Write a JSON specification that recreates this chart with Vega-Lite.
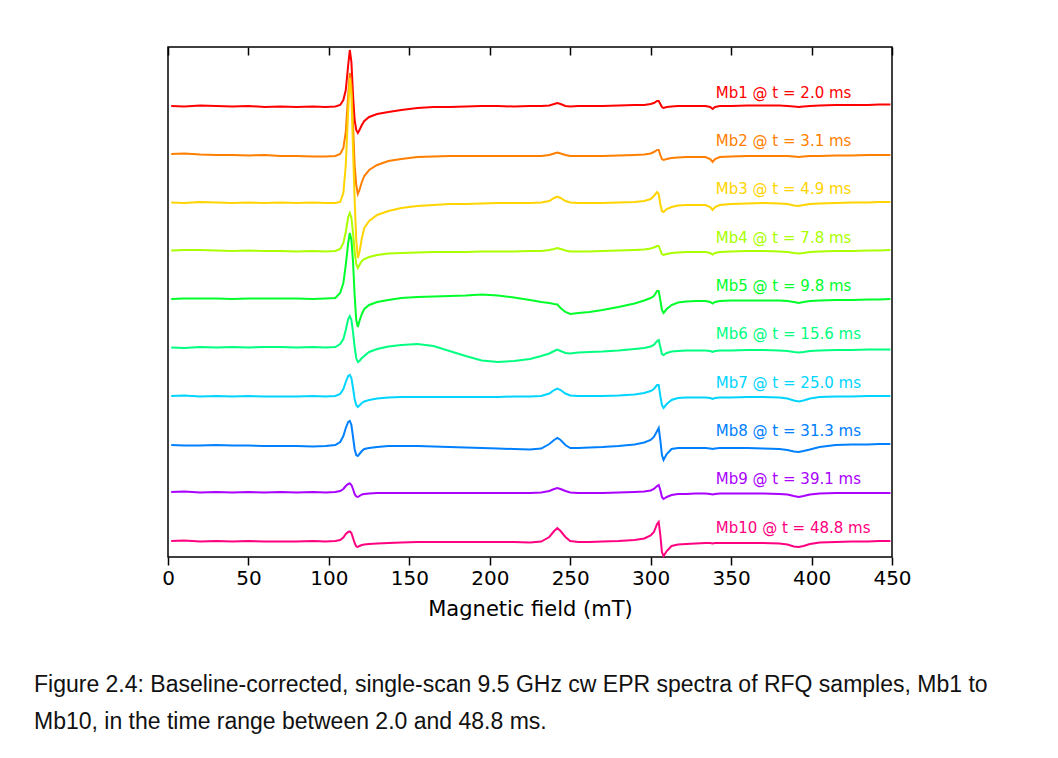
{
  "$schema": "https://vega.github.io/schema/vega-lite/v6.json",
  "width": 724,
  "height": 510,
  "autosize": "none",
  "padding": {"left": 168, "top": 47, "right": 166, "bottom": 201},
  "background": "white",
  "config": {
    "view": {"stroke": "#000000", "strokeWidth": 1.5}
  },
  "title": {
    "text": ["Figure 2.4:  Baseline-corrected, single-scan 9.5 GHz cw EPR spectra of RFQ samples, Mb1 to", "Mb10, in the time range between 2.0 and 48.8 ms."],
    "orient": "bottom",
    "anchor": "start",
    "frame": "group",
    "dx": -134,
    "offset": 55,
    "font": "Liberation Sans",
    "fontSize": 23,
    "fontWeight": "normal",
    "color": "#111111",
    "lineHeight": 37
  },
  "datasets": {
    "spectra": [
      {"x":2,"Mb1":451,"Mb2":403,"Mb3":354.5,"Mb4":306.5,"Mb5":258,"Mb6":209.5,"Mb7":161,"Mb8":112,"Mb9":65,"Mb10":16},
      {"x":10,"Mb1":450.5,"Mb2":403.5,"Mb3":354,"Mb4":307,"Mb5":258.5,"Mb6":209,"Mb7":161.5,"Mb8":111.5,"Mb9":65.5,"Mb10":16.5},
      {"x":20,"Mb1":451.5,"Mb2":402.5,"Mb3":355,"Mb4":307,"Mb5":258.5,"Mb6":210,"Mb7":160.5,"Mb8":111.5,"Mb9":64.5,"Mb10":15.5},
      {"x":30,"Mb1":451,"Mb2":402,"Mb3":354.5,"Mb4":306.5,"Mb5":258.5,"Mb6":209.5,"Mb7":161,"Mb8":112,"Mb9":65,"Mb10":16},
      {"x":40,"Mb1":450.5,"Mb2":402,"Mb3":354,"Mb4":306,"Mb5":258,"Mb6":210,"Mb7":160.5,"Mb8":111.5,"Mb9":64.5,"Mb10":15.5},
      {"x":50,"Mb1":451,"Mb2":401.5,"Mb3":354.5,"Mb4":306.5,"Mb5":258.5,"Mb6":209.5,"Mb7":161,"Mb8":111.5,"Mb9":65,"Mb10":16},
      {"x":60,"Mb1":450,"Mb2":402,"Mb3":354,"Mb4":306,"Mb5":258.5,"Mb6":210,"Mb7":160.5,"Mb8":111,"Mb9":64.5,"Mb10":15.5},
      {"x":70,"Mb1":450.5,"Mb2":401,"Mb3":354.5,"Mb4":306,"Mb5":258.5,"Mb6":210,"Mb7":160.5,"Mb8":111,"Mb9":65,"Mb10":15.5},
      {"x":80,"Mb1":450,"Mb2":401,"Mb3":354,"Mb4":305.5,"Mb5":258.5,"Mb6":209.5,"Mb7":160.5,"Mb8":111,"Mb9":64.5,"Mb10":15.5},
      {"x":90,"Mb1":450.5,"Mb2":400.5,"Mb3":354.5,"Mb4":306,"Mb5":258,"Mb6":210,"Mb7":161,"Mb8":110.5,"Mb9":65,"Mb10":16},
      {"x":98,"Mb1":450,"Mb2":400.5,"Mb3":354,"Mb4":305.5,"Mb5":258.5,"Mb6":209.5,"Mb7":160.5,"Mb8":111,"Mb9":64.5,"Mb10":15.5},
      {"x":104,"Mb1":450.5,"Mb2":401,"Mb3":354,"Mb4":306,"Mb5":259,"Mb6":210,"Mb7":161,"Mb8":112,"Mb9":65,"Mb10":16},
      {"x":107,"Mb1":452,"Mb2":403,"Mb3":355,"Mb4":308,"Mb5":264,"Mb6":213,"Mb7":163,"Mb8":115,"Mb9":66,"Mb10":17},
      {"x":109,"Mb1":457,"Mb2":409,"Mb3":364,"Mb4":314,"Mb5":274,"Mb6":218,"Mb7":168,"Mb8":121,"Mb9":68,"Mb10":19.5},
      {"x":110.5,"Mb1":467,"Mb2":425,"Mb3":392,"Mb4":325,"Mb5":292,"Mb6":227,"Mb7":175,"Mb8":129,"Mb9":71,"Mb10":23},
      {"x":112,"Mb1":492,"Mb2":462,"Mb3":447,"Mb4":340,"Mb5":314,"Mb6":238,"Mb7":181,"Mb8":135,"Mb9":73,"Mb10":25},
      {"x":113,"Mb1":507,"Mb2":484,"Mb3":479,"Mb4":344,"Mb5":324,"Mb6":241,"Mb7":182,"Mb8":136,"Mb9":73.5,"Mb10":25.5},
      {"x":114,"Mb1":495,"Mb2":472,"Mb3":462,"Mb4":339,"Mb5":317,"Mb6":237,"Mb7":179,"Mb8":132,"Mb9":72,"Mb10":24},
      {"x":115,"Mb1":462,"Mb2":432,"Mb3":407,"Mb4":324,"Mb5":295,"Mb6":225,"Mb7":169,"Mb8":120,"Mb9":68,"Mb10":19},
      {"x":116,"Mb1":437,"Mb2":392,"Mb3":357,"Mb4":305,"Mb5":262,"Mb6":210,"Mb7":158,"Mb8":108,"Mb9":63,"Mb10":14},
      {"x":117,"Mb1":427,"Mb2":372,"Mb3":317,"Mb4":293,"Mb5":237,"Mb6":199,"Mb7":152,"Mb8":102,"Mb9":60.5,"Mb10":10.5},
      {"x":118,"Mb1":424,"Mb2":363,"Mb3":299,"Mb4":289,"Mb5":230,"Mb6":195,"Mb7":150,"Mb8":101,"Mb9":60,"Mb10":10},
      {"x":119,"Mb1":427,"Mb2":367,"Mb3":305,"Mb4":292,"Mb5":236,"Mb6":196,"Mb7":151.5,"Mb8":103,"Mb9":61,"Mb10":11},
      {"x":120.5,"Mb1":432,"Mb2":375,"Mb3":319,"Mb4":296,"Mb5":243,"Mb6":199,"Mb7":154,"Mb8":106,"Mb9":62.5,"Mb10":12},
      {"x":122,"Mb1":436,"Mb2":381,"Mb3":329,"Mb4":298,"Mb5":248,"Mb6":201,"Mb7":155.5,"Mb8":108,"Mb9":63,"Mb10":12.5},
      {"x":125,"Mb1":440,"Mb2":387,"Mb3":336,"Mb4":300,"Mb5":252,"Mb6":205,"Mb7":157,"Mb8":109,"Mb9":63.5,"Mb10":13},
      {"x":130,"Mb1":443,"Mb2":392,"Mb3":342,"Mb4":302,"Mb5":255,"Mb6":208,"Mb7":158.5,"Mb8":110,"Mb9":64,"Mb10":13.5},
      {"x":137,"Mb1":445,"Mb2":396,"Mb3":346,"Mb4":303.5,"Mb5":257,"Mb6":210.5,"Mb7":159.5,"Mb8":111,"Mb9":64,"Mb10":14},
      {"x":145,"Mb1":447,"Mb2":398,"Mb3":349,"Mb4":304,"Mb5":259,"Mb6":212,"Mb7":160,"Mb8":111,"Mb9":64,"Mb10":14.5},
      {"x":155,"Mb1":449,"Mb2":400,"Mb3":351,"Mb4":304.5,"Mb5":260,"Mb6":213,"Mb7":160,"Mb8":111,"Mb9":64,"Mb10":15},
      {"x":165,"Mb1":450,"Mb2":400.5,"Mb3":352,"Mb4":305,"Mb5":260.5,"Mb6":211,"Mb7":160,"Mb8":110.5,"Mb9":64,"Mb10":15},
      {"x":175,"Mb1":450,"Mb2":401,"Mb3":353,"Mb4":305,"Mb5":261,"Mb6":206,"Mb7":160,"Mb8":110,"Mb9":64,"Mb10":15},
      {"x":185,"Mb1":450.5,"Mb2":401,"Mb3":353,"Mb4":305,"Mb5":261.5,"Mb6":201,"Mb7":160,"Mb8":109.5,"Mb9":64,"Mb10":15},
      {"x":195,"Mb1":451,"Mb2":401,"Mb3":353.5,"Mb4":305.5,"Mb5":262.5,"Mb6":196.5,"Mb7":160,"Mb8":109,"Mb9":64,"Mb10":15},
      {"x":205,"Mb1":451,"Mb2":401,"Mb3":354,"Mb4":305.5,"Mb5":261.5,"Mb6":195,"Mb7":160,"Mb8":108.5,"Mb9":64,"Mb10":15},
      {"x":215,"Mb1":450.5,"Mb2":401,"Mb3":354,"Mb4":305.5,"Mb5":259.5,"Mb6":196,"Mb7":160.5,"Mb8":108,"Mb9":64,"Mb10":15},
      {"x":225,"Mb1":451,"Mb2":401,"Mb3":354,"Mb4":306,"Mb5":257,"Mb6":198,"Mb7":160.5,"Mb8":107.5,"Mb9":64,"Mb10":14.5},
      {"x":232,"Mb1":451,"Mb2":401,"Mb3":354.5,"Mb4":306,"Mb5":255,"Mb6":201,"Mb7":161,"Mb8":108.5,"Mb9":64.5,"Mb10":15.5},
      {"x":237,"Mb1":451.5,"Mb2":402,"Mb3":356,"Mb4":307,"Mb5":254,"Mb6":203.5,"Mb7":163.5,"Mb8":113,"Mb9":66,"Mb10":20},
      {"x":240,"Mb1":453,"Mb2":403.5,"Mb3":359,"Mb4":308,"Mb5":253,"Mb6":206,"Mb7":167,"Mb8":117,"Mb9":68,"Mb10":26},
      {"x":242,"Mb1":454,"Mb2":404.5,"Mb3":360.5,"Mb4":309,"Mb5":252.5,"Mb6":207.5,"Mb7":168.5,"Mb8":119,"Mb9":69,"Mb10":29},
      {"x":244,"Mb1":453,"Mb2":403.5,"Mb3":359,"Mb4":308,"Mb5":249,"Mb6":206,"Mb7":167,"Mb8":117,"Mb9":68,"Mb10":26},
      {"x":247,"Mb1":451,"Mb2":402,"Mb3":356,"Mb4":306.5,"Mb5":245,"Mb6":204,"Mb7":163.5,"Mb8":112,"Mb9":66,"Mb10":20},
      {"x":250,"Mb1":450.5,"Mb2":401,"Mb3":354.5,"Mb4":305.5,"Mb5":243,"Mb6":203.5,"Mb7":161.5,"Mb8":109,"Mb9":64.5,"Mb10":16},
      {"x":255,"Mb1":451,"Mb2":401,"Mb3":354,"Mb4":305.5,"Mb5":244,"Mb6":204.5,"Mb7":161,"Mb8":109,"Mb9":64,"Mb10":15},
      {"x":262,"Mb1":451,"Mb2":401,"Mb3":354,"Mb4":305.5,"Mb5":245,"Mb6":205,"Mb7":161,"Mb8":109.5,"Mb9":64,"Mb10":15},
      {"x":270,"Mb1":451,"Mb2":401,"Mb3":354,"Mb4":306,"Mb5":247,"Mb6":205.5,"Mb7":161,"Mb8":110,"Mb9":64,"Mb10":15.5},
      {"x":280,"Mb1":451.5,"Mb2":401.5,"Mb3":354.5,"Mb4":306.5,"Mb5":250,"Mb6":206.5,"Mb7":161.5,"Mb8":111,"Mb9":64.5,"Mb10":16},
      {"x":290,"Mb1":452,"Mb2":402,"Mb3":355,"Mb4":307,"Mb5":253.5,"Mb6":208,"Mb7":162.5,"Mb8":112.5,"Mb9":65,"Mb10":17},
      {"x":296,"Mb1":452,"Mb2":402.5,"Mb3":356,"Mb4":307.5,"Mb5":256.5,"Mb6":209,"Mb7":164,"Mb8":114.5,"Mb9":65.5,"Mb10":18.5},
      {"x":300,"Mb1":453,"Mb2":403.5,"Mb3":358,"Mb4":308.5,"Mb5":259,"Mb6":210.5,"Mb7":166,"Mb8":117,"Mb9":66.5,"Mb10":21.5},
      {"x":302,"Mb1":454,"Mb2":405,"Mb3":361,"Mb4":309.5,"Mb5":261,"Mb6":212,"Mb7":168,"Mb8":120,"Mb9":68,"Mb10":25},
      {"x":304,"Mb1":456,"Mb2":407,"Mb3":365,"Mb4":311,"Mb5":266,"Mb6":216,"Mb7":172,"Mb8":126,"Mb9":71,"Mb10":33},
      {"x":305,"Mb1":456,"Mb2":407,"Mb3":363,"Mb4":311,"Mb5":266,"Mb6":217,"Mb7":172,"Mb8":129,"Mb9":72,"Mb10":35},
      {"x":306,"Mb1":453,"Mb2":402,"Mb3":353,"Mb4":307,"Mb5":257,"Mb6":210,"Mb7":161,"Mb8":117,"Mb9":67,"Mb10":22},
      {"x":307,"Mb1":450,"Mb2":398,"Mb3":346,"Mb4":303,"Mb5":247,"Mb6":203,"Mb7":152,"Mb8":102,"Mb9":60,"Mb10":5},
      {"x":308,"Mb1":449,"Mb2":397,"Mb3":345,"Mb4":302,"Mb5":244,"Mb6":202,"Mb7":149,"Mb8":97,"Mb9":58,"Mb10":1},
      {"x":310,"Mb1":450,"Mb2":398,"Mb3":348,"Mb4":303,"Mb5":248,"Mb6":204,"Mb7":153,"Mb8":103,"Mb9":60,"Mb10":6},
      {"x":313,"Mb1":450.5,"Mb2":399,"Mb3":350,"Mb4":304,"Mb5":252,"Mb6":205.5,"Mb7":157,"Mb8":108,"Mb9":62,"Mb10":11},
      {"x":317,"Mb1":451,"Mb2":399.5,"Mb3":351.5,"Mb4":304.5,"Mb5":254.5,"Mb6":206,"Mb7":159,"Mb8":109,"Mb9":63,"Mb10":12.5},
      {"x":322,"Mb1":451,"Mb2":400,"Mb3":352,"Mb4":305,"Mb5":255.5,"Mb6":206.5,"Mb7":159.5,"Mb8":109,"Mb9":63,"Mb10":13},
      {"x":328,"Mb1":451,"Mb2":400,"Mb3":352,"Mb4":305,"Mb5":256,"Mb6":206.5,"Mb7":159.5,"Mb8":109,"Mb9":63.5,"Mb10":13.5},
      {"x":334,"Mb1":451,"Mb2":400,"Mb3":352,"Mb4":305,"Mb5":256,"Mb6":206.5,"Mb7":159.5,"Mb8":109,"Mb9":63.5,"Mb10":14},
      {"x":337,"Mb1":450,"Mb2":398,"Mb3":350,"Mb4":304,"Mb5":255,"Mb6":206,"Mb7":159,"Mb8":108.5,"Mb9":63,"Mb10":14},
      {"x":338.5,"Mb1":448,"Mb2":395,"Mb3":347,"Mb4":302.5,"Mb5":253.5,"Mb6":205,"Mb7":158,"Mb8":108,"Mb9":62.5,"Mb10":13.5},
      {"x":340,"Mb1":450,"Mb2":398,"Mb3":350,"Mb4":304,"Mb5":255,"Mb6":206,"Mb7":159,"Mb8":108.5,"Mb9":63,"Mb10":14},
      {"x":343,"Mb1":451,"Mb2":400,"Mb3":352,"Mb4":305,"Mb5":256,"Mb6":206.5,"Mb7":159.5,"Mb8":109,"Mb9":63.5,"Mb10":14},
      {"x":350,"Mb1":451,"Mb2":400.5,"Mb3":353,"Mb4":305.5,"Mb5":256.5,"Mb6":206.5,"Mb7":159.5,"Mb8":109,"Mb9":63.5,"Mb10":14},
      {"x":360,"Mb1":451.5,"Mb2":401,"Mb3":353.5,"Mb4":306,"Mb5":256.5,"Mb6":207,"Mb7":160,"Mb8":109,"Mb9":63.5,"Mb10":14},
      {"x":370,"Mb1":451.5,"Mb2":401,"Mb3":354,"Mb4":306,"Mb5":256.5,"Mb6":207,"Mb7":160,"Mb8":108.5,"Mb9":63.5,"Mb10":14},
      {"x":380,"Mb1":451.5,"Mb2":401,"Mb3":353.5,"Mb4":305.5,"Mb5":256.5,"Mb6":206.5,"Mb7":159.5,"Mb8":108,"Mb9":63,"Mb10":13.5},
      {"x":385,"Mb1":451,"Mb2":401,"Mb3":353,"Mb4":305,"Mb5":256,"Mb6":206,"Mb7":158.5,"Mb8":107,"Mb9":62.5,"Mb10":12.5},
      {"x":389,"Mb1":450.5,"Mb2":400.5,"Mb3":351.5,"Mb4":304,"Mb5":255,"Mb6":205,"Mb7":156.5,"Mb8":105.5,"Mb9":61,"Mb10":10.5},
      {"x":392,"Mb1":450,"Mb2":400,"Mb3":351,"Mb4":303.5,"Mb5":254,"Mb6":204.5,"Mb7":155.5,"Mb8":105,"Mb9":60,"Mb10":10},
      {"x":395,"Mb1":450.5,"Mb2":400.5,"Mb3":352,"Mb4":304,"Mb5":255,"Mb6":205,"Mb7":156.5,"Mb8":106,"Mb9":61,"Mb10":11},
      {"x":399,"Mb1":451,"Mb2":401,"Mb3":353,"Mb4":305,"Mb5":256,"Mb6":206,"Mb7":158.5,"Mb8":107.5,"Mb9":62.5,"Mb10":13},
      {"x":405,"Mb1":451.5,"Mb2":401,"Mb3":353.5,"Mb4":305.5,"Mb5":256.5,"Mb6":206.5,"Mb7":160,"Mb8":110,"Mb9":63.5,"Mb10":14.5},
      {"x":415,"Mb1":452,"Mb2":401.5,"Mb3":354,"Mb4":306,"Mb5":257,"Mb6":207,"Mb7":160.5,"Mb8":112,"Mb9":64,"Mb10":15},
      {"x":425,"Mb1":452,"Mb2":401.5,"Mb3":354.5,"Mb4":306,"Mb5":257,"Mb6":207,"Mb7":160.5,"Mb8":112.5,"Mb9":64,"Mb10":15.5},
      {"x":435,"Mb1":452,"Mb2":402,"Mb3":354.5,"Mb4":306.5,"Mb5":257.5,"Mb6":207.5,"Mb7":161,"Mb8":112.5,"Mb9":64,"Mb10":15.5},
      {"x":442,"Mb1":452.5,"Mb2":402,"Mb3":355,"Mb4":306.5,"Mb5":257.5,"Mb6":207.5,"Mb7":161,"Mb8":113,"Mb9":64,"Mb10":16},
      {"x":449,"Mb1":452.5,"Mb2":402,"Mb3":355,"Mb4":307,"Mb5":258,"Mb6":207.5,"Mb7":161,"Mb8":113,"Mb9":64,"Mb10":16}
    ],
    "labels": [
      {"s":"Mb1","x":340.5,"v":464,"label":"Mb1 @ t = 2.0 ms"},
      {"s":"Mb2","x":340.5,"v":416,"label":"Mb2 @ t = 3.1 ms"},
      {"s":"Mb3","x":340.5,"v":368,"label":"Mb3 @ t = 4.9 ms"},
      {"s":"Mb4","x":340.5,"v":319,"label":"Mb4 @ t = 7.8 ms"},
      {"s":"Mb5","x":340.5,"v":271,"label":"Mb5 @ t = 9.8 ms"},
      {"s":"Mb6","x":340.5,"v":223,"label":"Mb6 @ t = 15.6 ms"},
      {"s":"Mb7","x":340.5,"v":174,"label":"Mb7 @ t = 25.0 ms"},
      {"s":"Mb8","x":340.5,"v":126,"label":"Mb8 @ t = 31.3 ms"},
      {"s":"Mb9","x":340.5,"v":78,"label":"Mb9 @ t = 39.1 ms"},
      {"s":"Mb10","x":340.5,"v":29,"label":"Mb10 @ t = 48.8 ms"}
    ]
  },
  "layer": [
    {
      "data": {"name": "spectra"},
      "transform": [
        {"fold": ["Mb1","Mb2","Mb3","Mb4","Mb5","Mb6","Mb7","Mb8","Mb9","Mb10"], "as": ["s","v"]}
      ],
      "mark": {"type": "line", "strokeWidth": 2},
      "encoding": {
        "x": {
          "field": "x", "type": "quantitative",
          "scale": {"domain": [0, 450], "nice": false, "zero": false},
          "axis": null
        },
        "y": {
          "field": "v", "type": "quantitative",
          "scale": {"domain": [0, 510], "nice": false, "zero": false},
          "axis": null
        },
        "color": {
          "field": "s", "type": "nominal",
          "scale": {
            "domain": ["Mb1","Mb2","Mb3","Mb4","Mb5","Mb6","Mb7","Mb8","Mb9","Mb10"],
            "range": ["#ff0000","#ff7f00","#ffd400","#aaff00","#00ff2a","#00ff80","#00d4ff","#0080ff","#aa00ff","#ff0080"]
          },
          "legend": null
        }
      }
    },
    {
      "data": {"name": "labels"},
      "mark": {"type": "text", "align": "left", "baseline": "middle", "font": "DejaVu Sans", "fontSize": 15},
      "encoding": {
        "x": {
          "field": "x", "type": "quantitative",
          "scale": {"domain": [0, 450], "nice": false, "zero": false},
          "axis": {
            "orient": "bottom",
            "values": [0,50,100,150,200,250,300,350,400,450],
            "grid": false,
            "domain": false,
            "tickSize": 8,
            "tickColor": "#000000",
            "tickWidth": 1.5,
            "labelFont": "DejaVu Sans",
            "labelFontSize": 20,
            "labelColor": "#000000",
            "labelPadding": 3,
            "labelFlush": false,
            "title": "Magnetic field (mT)",
            "titleFont": "DejaVu Sans",
            "titleFontSize": 21,
            "titleFontWeight": "normal",
            "titleColor": "#000000",
            "titlePadding": 10
          }
        },
        "y": {"field": "v", "type": "quantitative", "axis": null},
        "text": {"field": "label"},
        "color": {"field": "s", "type": "nominal", "legend": null}
      }
    },
    {
      "data": {"name": "labels"},
      "mark": {"type": "point", "opacity": 0},
      "encoding": {
        "x": {
          "field": "x", "type": "quantitative",
          "scale": {"domain": [0, 450], "nice": false, "zero": false},
          "axis": {
            "orient": "top",
            "offset": -8,
            "values": [0,50,100,150,200,250,300,350,400,450],
            "grid": false,
            "domain": false,
            "labels": false,
            "tickSize": 8,
            "tickColor": "#000000",
            "tickWidth": 1.5,
            "title": null
          }
        },
        "y": {"field": "v", "type": "quantitative", "axis": null}
      }
    }
  ],
  "resolve": {"axis": {"x": "independent"}}
}
